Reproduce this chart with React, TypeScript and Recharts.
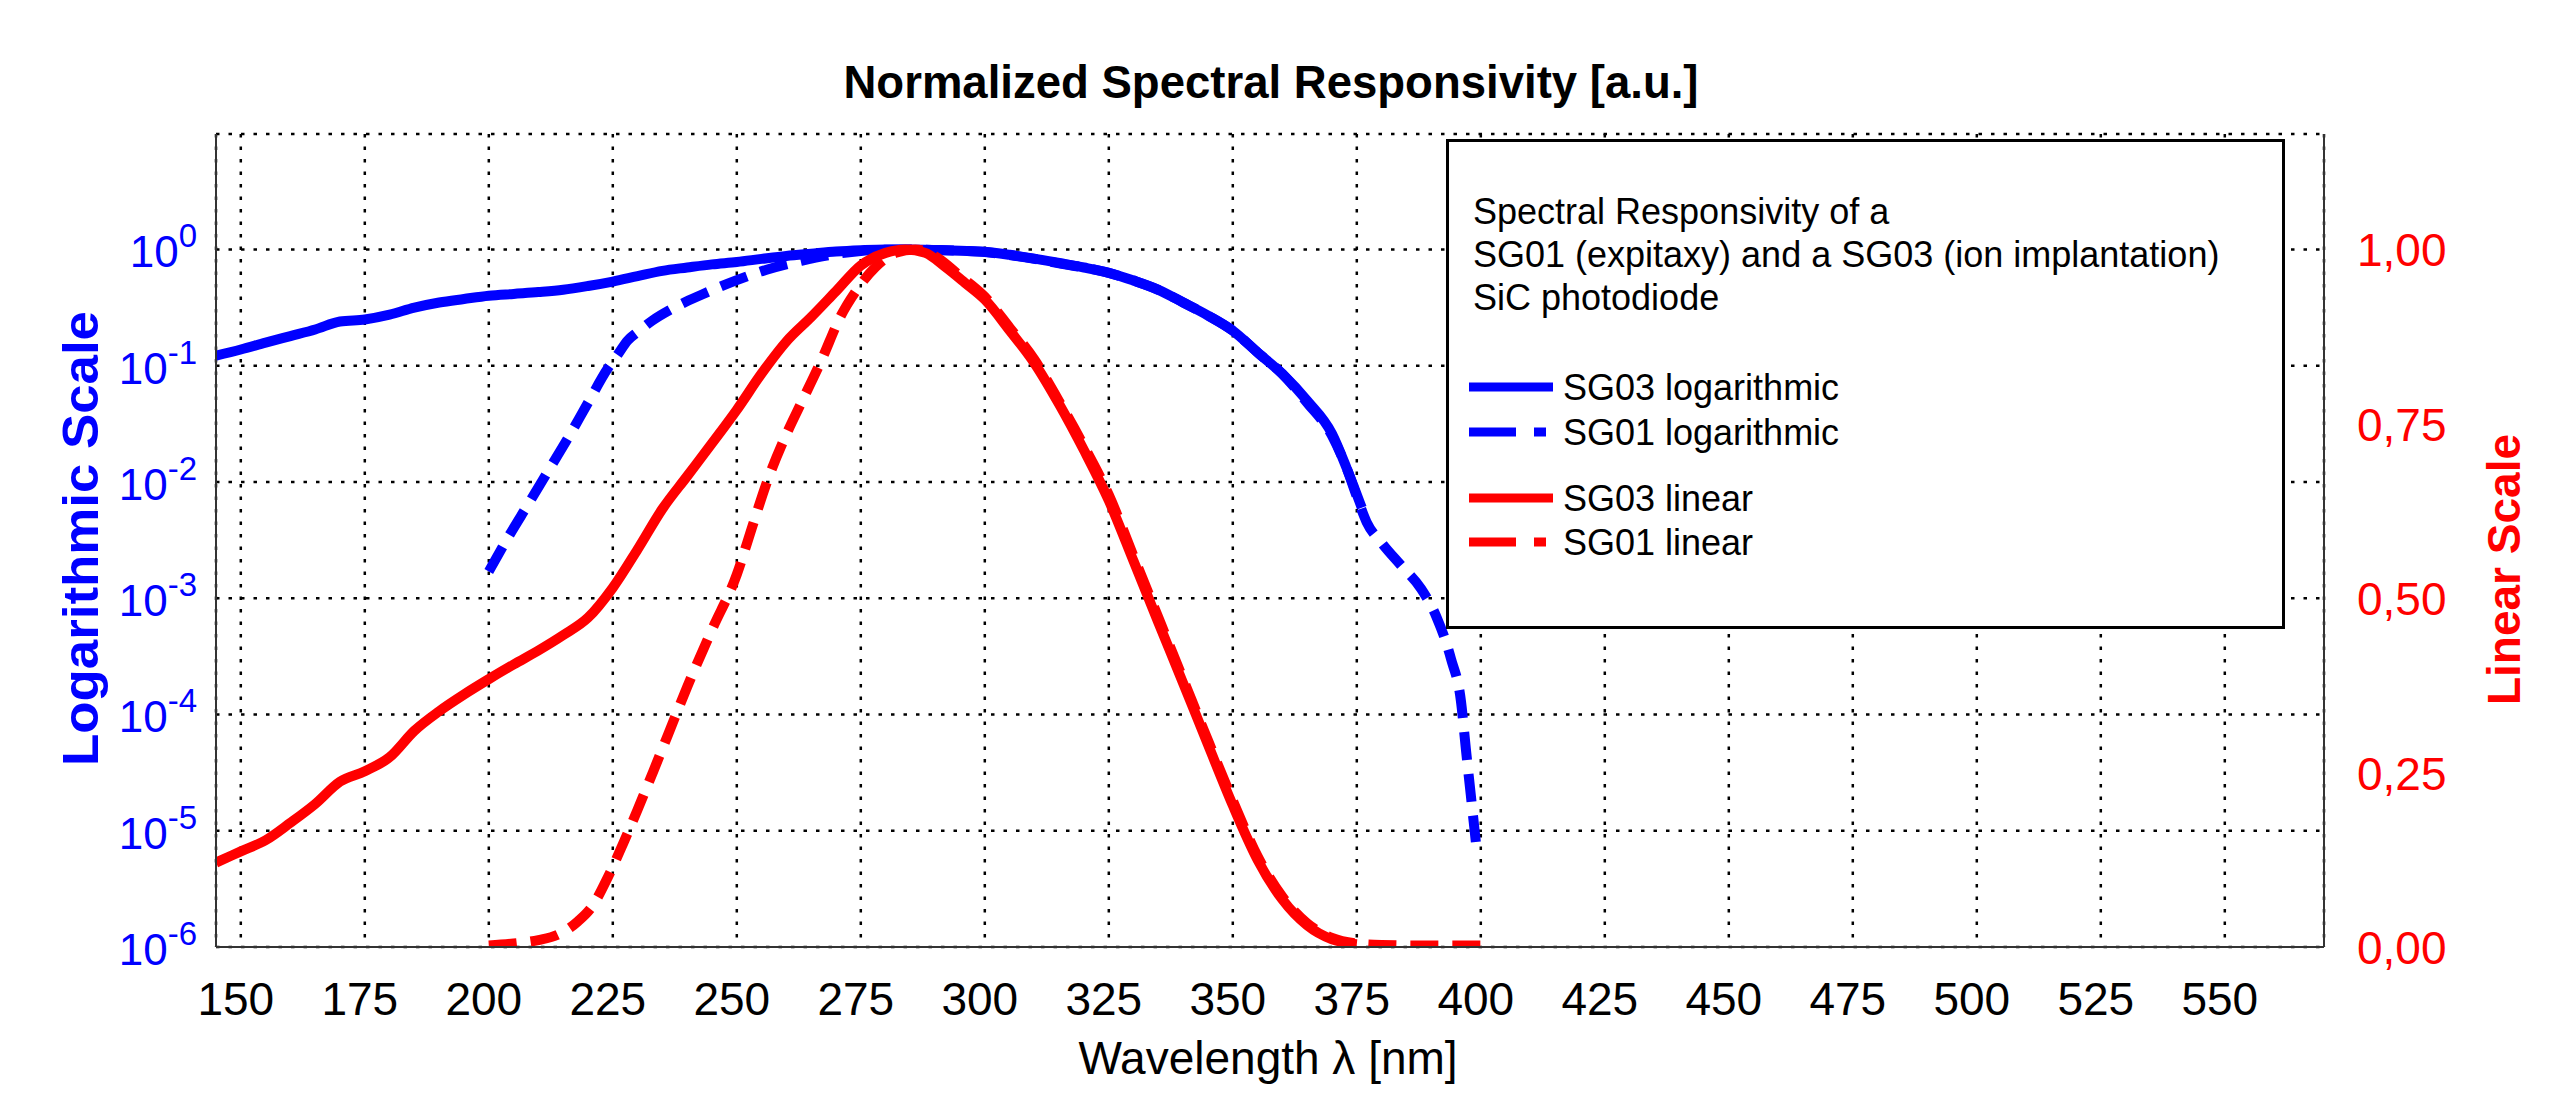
import React from 'react';
import { ComposedChart, Line, XAxis, YAxis, CartesianGrid, Legend } from 'recharts';

const FONT = '"Liberation Sans", Arial, Helvetica, sans-serif';
const BLUE = '#0000ff';
const RED = '#ff0000';
const FRAME = '#333333';

const chartTitle = 'Normalized Spectral Responsivity [a.u.]';

// wavelength axis [nm]
const xTicks = [150, 175, 200, 225, 250, 275, 300, 325, 350, 375, 400, 425, 450, 475, 500, 525, 550];
const xMinorTicks = Array.from({ length: 84 }, (_, i) => 150 + i * 5);

// left (logarithmic) axis
const logTicks = [1e-6, 1e-5, 1e-4, 1e-3, 1e-2, 1e-1, 1];
const logExponents = ['-6', '-5', '-4', '-3', '-2', '-1', '0'];
const logMantissas = [2, 3, 4, 5, 6, 7, 8, 9];
const logMinorTicks = logTicks.flatMap(d => logMantissas.map(m => m * d));

// right (linear) axis
const linTicks = [0, 0.25, 0.5, 0.75, 1];
const linTickLabels = ['0,00', '0,25', '0,50', '0,75', '1,00'];
const linMinorTicks = [0.125, 0.375, 0.625, 0.875, 1.125];

// SG03 logarithmic (blue solid)
const sg03LogNm = [145, 150, 155, 160, 165, 170, 175, 180, 185, 190, 195, 200, 205, 210, 215, 220, 225, 230, 235, 240, 245, 250, 255, 260, 265, 270, 275, 280, 284, 290, 295, 300, 305, 310, 315, 320, 325, 330, 335, 340, 345, 350, 355, 360, 365, 370, 373, 376];
const sg03LogVal = [0.122, 0.138, 0.158, 0.18, 0.205, 0.24, 0.25, 0.275, 0.316, 0.35, 0.375, 0.4, 0.415, 0.43, 0.45, 0.485, 0.53, 0.59, 0.655, 0.7, 0.745, 0.78, 0.83, 0.88, 0.92, 0.96, 0.985, 1.0, 1.0, 0.99, 0.975, 0.955, 0.9, 0.835, 0.765, 0.7, 0.63, 0.54, 0.45, 0.35, 0.27, 0.2, 0.13, 0.085, 0.05, 0.026, 0.013, 0.006];

// SG01 logarithmic (blue dashed)
const sg01LogNm = [200, 204, 208, 212, 216, 220, 224, 226, 228, 230, 233, 237, 243, 250, 256, 263, 270, 275, 280, 285, 290, 295, 300, 305, 310, 315, 320, 325, 330, 335, 340, 345, 350, 355, 360, 365, 370, 373, 375, 377, 380, 384, 388, 391, 394, 396, 397, 398, 399];
const sg01LogVal = [0.0017, 0.0034, 0.0065, 0.0125, 0.024, 0.048, 0.095, 0.125, 0.165, 0.195, 0.245, 0.31, 0.41, 0.545, 0.67, 0.8, 0.915, 0.97, 0.995, 1.0, 0.99, 0.975, 0.95, 0.895, 0.83, 0.76, 0.7, 0.63, 0.54, 0.45, 0.35, 0.27, 0.2, 0.13, 0.085, 0.048, 0.025, 0.013, 0.0075, 0.0045, 0.003, 0.0019, 0.0012, 0.0007, 0.0003, 0.00013, 0.00005, 0.00002, 0.000008];

// SG03 linear (red solid)
const sg03LinNm = [145, 150, 155, 160, 165, 170, 175, 180, 185, 190, 195, 200, 205, 210, 215, 220, 225, 230, 235, 240, 245, 250, 255, 260, 265, 270, 275, 280, 284, 288, 292, 296, 300, 305, 310, 315, 320, 325, 330, 335, 340, 345, 350, 355, 360, 365, 370, 375];
const sg03LinVal = [0.121, 0.137, 0.153, 0.178, 0.205, 0.237, 0.252, 0.272, 0.31, 0.338, 0.362, 0.384, 0.405, 0.425, 0.447, 0.472, 0.515, 0.57, 0.628, 0.675, 0.722, 0.77, 0.822, 0.868, 0.903, 0.94, 0.977, 0.995, 1.0, 0.995, 0.975, 0.952, 0.928, 0.884, 0.837, 0.778, 0.712, 0.64, 0.553, 0.465, 0.378, 0.29, 0.203, 0.125, 0.068, 0.031, 0.011, 0.004];

// SG01 linear (red dashed)
const sg01LinNm = [200, 205, 210, 214, 218, 221, 224, 227, 230, 233, 236, 240, 245, 250, 253, 256, 260, 263, 267, 271, 274, 278, 282, 286, 290, 295, 300, 305, 310, 315, 320, 325, 330, 335, 340, 345, 350, 355, 360, 365, 370, 375, 380, 390, 400];
const sg01LinVal = [0.002, 0.005, 0.01, 0.018, 0.037, 0.06, 0.1, 0.147, 0.197, 0.249, 0.302, 0.373, 0.455, 0.534, 0.6, 0.665, 0.735, 0.78, 0.84, 0.905, 0.94, 0.975, 0.995, 1.0, 0.99, 0.962, 0.932, 0.888, 0.842, 0.782, 0.718, 0.648, 0.56, 0.472, 0.384, 0.296, 0.21, 0.13, 0.072, 0.034, 0.013, 0.005, 0.003, 0.002, 0.002];

const legendHeader = ['Spectral Responsivity of a', 'SG01 (expitaxy) and a SG03 (ion implantation)', 'SiC photodiode'];
const legendOrder = ['SG03 logarithmic', 'SG01 logarithmic', 'SG03 linear', 'SG01 linear'];

const toPoints = (nm: number[], v: number[]) => nm.map((x, i) => ({ x, v: v[i] }));

const XTick = ({ x, y, payload }: any) => (
    <text x={x - 5} y={y + 68} textAnchor="middle" fontFamily={FONT} fontSize={46} fill="#000">
        {payload.value}
    </text>
);

const LogTick = ({ x, y, payload }: any) => {
    const i = logTicks.indexOf(payload.value);
    return (
        <text x={x - 19} y={y + 18} textAnchor="end" fontFamily={FONT} fontSize={44} fill={BLUE}>
            10<tspan dy={-20} fontSize={33}>{logExponents[i]}</tspan>
        </text>
    );
};

const LinTick = ({ x, y, payload }: any) => {
    const i = linTicks.indexOf(payload.value);
    return (
        <text x={x + 33} y={y + 17} textAnchor="start" fontFamily={FONT} fontSize={46} fill={RED}>
            {linTickLabels[i]}
        </text>
    );
};

const XLabel = ({ viewBox }: any) => (
    <text x={viewBox.x + viewBox.width / 2 - 2} y={viewBox.y + 127} textAnchor="middle" fontFamily={FONT}
        fontSize={46} fill="#000">
        Wavelength λ [nm]
    </text>
);

const LeftLabel = ({ viewBox }: any) => {
    const cx = viewBox.x + 82;
    const cy = viewBox.y + viewBox.height / 2 - 2;
    return (
        <text x={cx} y={cy} transform={`rotate(-90 ${cx} ${cy})`} textAnchor="middle" fontFamily={FONT}
            fontWeight="bold" fontSize={50} fill={BLUE} textLength={455} lengthAdjust="spacingAndGlyphs">
            Logarithmic Scale
        </text>
    );
};

const RightLabel = ({ viewBox }: any) => {
    const cx = viewBox.x + 196;
    const cy = viewBox.y + viewBox.height / 2 + 29;
    return (
        <text x={cx} y={cy} transform={`rotate(-90 ${cx} ${cy})`} textAnchor="middle" fontFamily={FONT}
            fontWeight="bold" fontSize={46} fill={RED}>
            Linear Scale
        </text>
    );
};

const LegendBox = ({ payload }: any) => {
    const items = [...(payload || [])].sort(
        (a: any, b: any) => legendOrder.indexOf(a.value) - legendOrder.indexOf(b.value));
    const rowY = [248, 293, 359, 403];
    return (
        <svg width={839} height={490} style={{ display: 'block' }}>
            <rect x={1.5} y={1.5} width={836} height={487} fill="#fff" stroke="#000" strokeWidth={3} />
            {legendHeader.map((t, i) => (
                <text key={t} x={27} y={85 + i * 43} fontFamily={FONT} fontSize={36} fill="#000">{t}</text>
            ))}
            {items.map((it: any, i: number) => (
                <g key={it.value}>
                    <line x1={23} x2={107} y1={rowY[i]} y2={rowY[i]} stroke={it.color} strokeWidth={9}
                        strokeDasharray={String(it.value).startsWith('SG01') ? '47 18 12 40' : undefined} />
                    <text x={117} y={rowY[i] + 12.5} fontFamily={FONT} fontSize={36} fill="#000">{it.value}</text>
                </g>
            ))}
        </svg>
    );
};

const tickStroke = { stroke: FRAME, strokeWidth: 2 };

export default function App() {
    return (
        <div style={{ position: 'absolute', left: 0, top: 0, width: 2560, height: 1102, background: '#fff' }}>
            <svg width={2560} height={130} style={{ position: 'absolute', left: 0, top: 0 }}>
                <text x={1271} y={98} textAnchor="middle" fontFamily={FONT} fontWeight="bold" fontSize={46}
                    fill="#000" textLength={855} lengthAdjust="spacingAndGlyphs">
                    {chartTitle}
                </text>
            </svg>
            <ComposedChart width={2560} height={1102} margin={{ top: 134, right: 36, bottom: 55, left: 16 }}>
                <CartesianGrid xAxisId="x" yAxisId="log" stroke="#000" strokeWidth={2.5} strokeDasharray="3.5 9" />

                <XAxis xAxisId="x" type="number" dataKey="x" domain={[145, 570]} allowDataOverflow ticks={xTicks}
                    interval={0} height={100} tickLine={false} tickSize={0} tickMargin={0}
                    axisLine={tickStroke} tick={XTick} label={XLabel} />
                <XAxis xAxisId="bMinor" type="number" domain={[145, 570]} allowDataOverflow ticks={xMinorTicks}
                    interval={0} height={0} mirror tick={false} tickSize={8} axisLine={false} tickLine={tickStroke} />
                <XAxis xAxisId="bMajor" type="number" domain={[145, 570]} allowDataOverflow ticks={xTicks}
                    interval={0} height={0} mirror tick={false} tickSize={14} axisLine={false} tickLine={tickStroke} />
                <XAxis xAxisId="tMinor" orientation="top" type="number" domain={[145, 570]} allowDataOverflow
                    ticks={xMinorTicks} interval={0} height={0} mirror tick={false} tickSize={8}
                    axisLine={tickStroke} tickLine={tickStroke} />
                <XAxis xAxisId="tMajor" orientation="top" type="number" domain={[145, 570]} allowDataOverflow
                    ticks={xTicks} interval={0} height={0} mirror tick={false} tickSize={14}
                    axisLine={false} tickLine={tickStroke} />

                <YAxis yAxisId="log" scale="log" type="number" domain={[1e-6, 9.85]} allowDataOverflow
                    ticks={logTicks} interval={0} width={200} tickLine={false} tickSize={0} tickMargin={0}
                    axisLine={tickStroke} tick={LogTick} label={LeftLabel} />
                <YAxis yAxisId="logMinor" scale="log" type="number" domain={[1e-6, 9.85]} allowDataOverflow
                    ticks={logMinorTicks} interval={0} width={0} mirror tick={false} tickSize={8}
                    axisLine={false} tickLine={tickStroke} />
                <YAxis yAxisId="logMajor" scale="log" type="number" domain={[1e-6, 9.85]} allowDataOverflow
                    ticks={logTicks} interval={0} width={0} mirror tick={false} tickSize={14}
                    axisLine={false} tickLine={tickStroke} />

                <YAxis yAxisId="lin" orientation="right" type="number" domain={[0, 1.1654]} allowDataOverflow
                    ticks={linTicks} interval={0} width={200} tickLine={false} tickSize={0} tickMargin={0}
                    axisLine={tickStroke} tick={LinTick} label={RightLabel} />
                <YAxis yAxisId="linMinor" orientation="right" type="number" domain={[0, 1.1654]} allowDataOverflow
                    ticks={linMinorTicks} interval={0} width={0} mirror tick={false} tickSize={9}
                    axisLine={false} tickLine={tickStroke} />
                <YAxis yAxisId="linMajor" orientation="right" type="number" domain={[0, 1.1654]} allowDataOverflow
                    ticks={linTicks} interval={0} width={0} mirror tick={false} tickSize={16}
                    axisLine={false} tickLine={tickStroke} />

                <Line xAxisId="x" yAxisId="log" data={toPoints(sg03LogNm, sg03LogVal)} dataKey="v"
                    name="SG03 logarithmic" type="monotone" stroke={BLUE} strokeWidth={10}
                    dot={false} activeDot={false} isAnimationActive={false} />
                <Line xAxisId="x" yAxisId="log" data={toPoints(sg01LogNm, sg01LogVal)} dataKey="v"
                    name="SG01 logarithmic" type="monotone" stroke={BLUE} strokeWidth={10} strokeDasharray="28 14"
                    dot={false} activeDot={false} isAnimationActive={false} />
                <Line xAxisId="x" yAxisId="lin" data={toPoints(sg03LinNm, sg03LinVal)} dataKey="v"
                    name="SG03 linear" type="monotone" stroke={RED} strokeWidth={10}
                    dot={false} activeDot={false} isAnimationActive={false} />
                <Line xAxisId="x" yAxisId="lin" data={toPoints(sg01LinNm, sg01LinVal)} dataKey="v"
                    name="SG01 linear" type="monotone" stroke={RED} strokeWidth={10} strokeDasharray="28 14"
                    dot={false} activeDot={false} isAnimationActive={false} />

                <Legend layout="vertical" align="center" verticalAlign="middle"
                    wrapperStyle={{ position: 'absolute', left: 1446, top: 139, width: 839, height: 490 }}
                    content={(props: any) => <LegendBox payload={props.payload} />} />
            </ComposedChart>
        </div>
    );
}
